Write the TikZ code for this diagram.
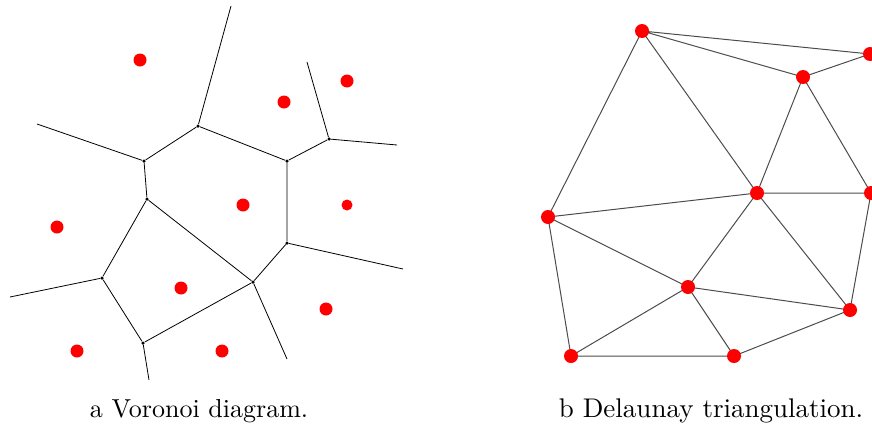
\documentclass[tikz,border=0pt]{standalone}
\begin{document}
\begin{tikzpicture}[x=1pt,y=-1pt,
  site/.style={circle,fill=red,draw=none,inner sep=0pt,minimum size=13pt},
  dsite/.style={circle,fill=red,draw=none,inner sep=0pt,minimum size=14pt},
  vtx/.style={circle,fill=black,draw=none,inner sep=0pt,minimum size=3.5pt},
  vedge/.style={draw=black,line width=0.8pt},
  dedge/.style={draw=black!70,line width=1pt},
  captext/.style={font=\fontsize{10}{12}\selectfont,anchor=base,inner sep=0pt}]
\useasboundingbox (0,0) rectangle (872,426);
\clip (0,0) rectangle (872,426);
% Voronoi vertices
\node[vtx] (v1) at (198,126) {};
\node[vtx] (v2) at (144,161) {};
\node[vtx] (v3) at (147,199) {};
\node[vtx] (v4) at (287,161) {};
\node[vtx] (v5) at (329,139) {};
\node[vtx] (v6) at (287,243) {};
\node[vtx] (v7) at (253,282) {};
\node[vtx] (v8) at (102,278) {};
\node[vtx] (v9) at (143,343) {};
\coordinate (r1) at (231,6);
\coordinate (r2) at (37,124);
\coordinate (r3) at (307,62);
\coordinate (r4) at (397,145);
\coordinate (r5) at (403,269);
\coordinate (r6) at (287,359);
\coordinate (r7) at (10,297);
\coordinate (r8) at (149,380);
\path[vedge] (v1)--(v2) (v2)--(v3) (v1)--(v4) (v4)--(v5) (v4)--(v6)
  (v6)--(v7) (v3)--(v7) (v3)--(v8) (v8)--(v9) (v9)--(v7)
  (v1)--(r1) (v2)--(r2) (v5)--(r3) (v5)--(r4) (v6)--(r5) (v7)--(r6)
  (v8)--(r7) (v9)--(r8);
% Voronoi sites
\node[site] (s1) at (140,60) {};
\node[site] (s2) at (347,81) {};
\node[site] (s3) at (284,102) {};
\node[site] (s4) at (243,205) {};
\node[site,minimum size=11pt] (s5) at (347,205) {};
\node[site] (s6) at (57,227) {};
\node[site] (s7) at (181,288) {};
\node[site] (s8) at (326,309) {};
\node[site] (s9) at (77,351) {};
\node[site] (s10) at (222,351) {};
% Delaunay
\coordinate (d1) at (642,31);
\coordinate (d2) at (870,54);
\coordinate (d3) at (803,77);
\coordinate (d4) at (757,193);
\coordinate (d5) at (871,193);
\coordinate (d6) at (548,217);
\coordinate (d7) at (688,287);
\coordinate (d8) at (850,310);
\coordinate (d9) at (571,356);
\coordinate (d10) at (734,356);
\path[dedge] (d1)--(d2) (d1)--(d3) (d3)--(d2) (d1)--(d6) (d1)--(d4)
  (d3)--(d4) (d3)--(d5) (d4)--(d5) (d6)--(d4) (d6)--(d7) (d6)--(d9)
  (d4)--(d7) (d4)--(d8) (d5)--(d8) (d7)--(d8) (d7)--(d9) (d7)--(d10)
  (d9)--(d10) (d10)--(d8);
\foreach \p in {d1,d2,d3,d4,d5,d6,d7,d8,d9,d10}
  \node[dsite] (n\p) at (\p) {};
% captions
\node[captext] (ca) at (199,417.5) {\scalebox{2.6}{a Voronoi diagram.}};
\node[captext] (cb) at (711,417.5) {\scalebox{2.7}{b Delaunay triangulation.}};
\end{tikzpicture}
\end{document}
